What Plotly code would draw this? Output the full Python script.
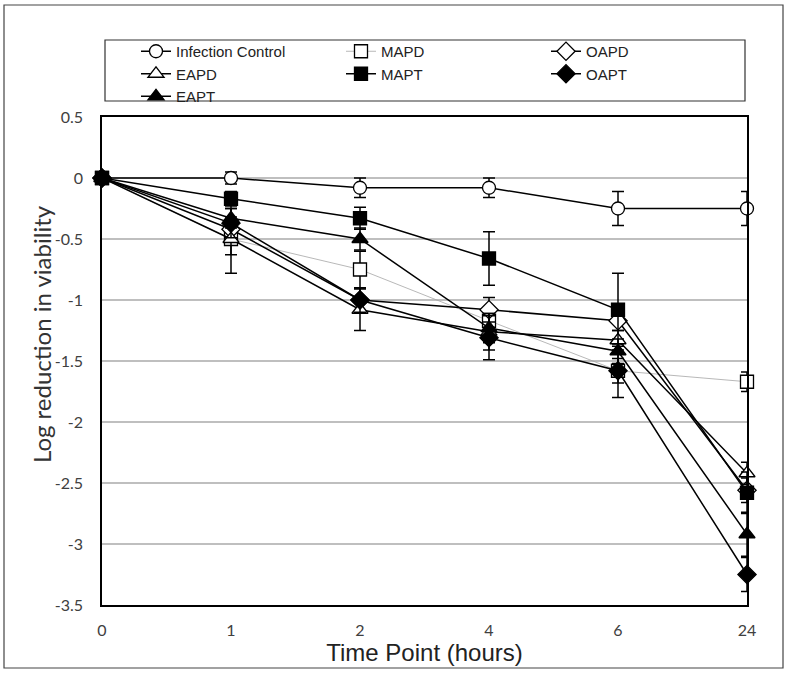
import plotly.graph_objects as go

# ---- data ----
time_labels = ["0", "1", "2", "4", "6", "24"]
y_ticks = [0.5, 0, -0.5, -1, -1.5, -2, -2.5, -3, -3.5]
y_tick_text = ["0.5", "0", "-0.5", "-1", "-1.5", "-2", "-2.5", "-3", "-3.5"]

control = [0, 0, -0.08, -0.08, -0.25, -0.25]
control_err = [0, 0.05, 0.08, 0.08, 0.14, 0.14]

mapd = [0, -0.5, -0.75, -1.17, -1.58, -1.67]
mapd_err = [0, 0.13, 0.15, 0.10, 0.10, 0.08]

oapd = [0, -0.42, -1.0, -1.08, -1.17, -2.56]
oapd_err = [0, 0.10, 0.10, 0.10, 0.08, 0.10]

eapd = [0, -0.5, -1.08, -1.26, -1.33, -2.42]
eapd_err = [0, 0.28, 0.17, 0.15, 0.08, 0.09]

mapt = [0, -0.17, -0.33, -0.66, -1.08, -2.58]
mapt_err = [0, 0.06, 0.09, 0.22, 0.30, 0.17]

oapt = [0, -0.37, -1.0, -1.31, -1.58, -3.25]
oapt_err = [0, 0.12, 0.10, 0.18, 0.22, 0.14]

eapt = [0, -0.33, -0.5, -1.23, -1.42, -2.92]
eapt_err = [0, 0.08, 0.09, 0.12, 0.10, 0.18]

series = [
    ("Infection Control", control, control_err, "circle-open", "black", 1.5, 13),
    ("MAPD", mapd, mapd_err, "square-open", "#A6A6A6", 0.8, 13),
    ("OAPD", oapd, oapd_err, "diamond-open", "black", 1.5, 14),
    ("EAPD", eapd, eapd_err, "triangle-up-open", "black", 1.5, 14),
    ("MAPT", mapt, mapt_err, "square", "black", 1.5, 13),
    ("OAPT", oapt, oapt_err, "diamond", "black", 1.5, 14),
    ("EAPT", eapt, eapt_err, "triangle-up", "black", 1.5, 14),
]

xpos = list(range(len(time_labels)))

fig = go.Figure()
for name, vals, errs, sym, lc, lw, ms in series:
    filled = not sym.endswith("-open")
    fig.add_trace(go.Scatter(
        x=xpos, y=vals, name=name, mode="lines+markers",
        line=dict(color=lc, width=lw),
        marker=dict(symbol=sym.replace("-open", ""), size=ms,
                    color="black" if filled else "white",
                    line=dict(color="black", width=1.3)),
        error_y=dict(type="data", array=errs, visible=True,
                     color="black", thickness=1.5, width=6),
        cliponaxis=False,
    ))

W, H = 789, 675
L, R, T, B = 102, 747, 117, 605


def px_x(p):
    return (p - L) / (R - L)


def px_y(p):
    return (B - p) / (B - T)


shapes = [
    # outer frame
    dict(type="rect", xref="paper", yref="paper",
         x0=px_x(4), x1=px_x(783), y0=px_y(668), y1=px_y(5),
         line=dict(color="#444444", width=1.2), layer="below"),
    # legend box
    dict(type="rect", xref="paper", yref="paper",
         x0=px_x(105), x1=px_x(745), y0=px_y(101), y1=px_y(40),
         line=dict(color="#333333", width=1.2)),
]

fig.update_layout(
    width=W, height=H,
    margin=dict(l=L, r=W - R, t=T, b=H - B),
    paper_bgcolor="white", plot_bgcolor="white",
    showlegend=True,
    legend=dict(orientation="h", x=px_x(136), y=px_y(35),
                xanchor="left", yanchor="top",
                entrywidth=160, entrywidthmode="pixels",
                font=dict(family="Liberation Sans, Arial", size=15, color="#222222"),
                bgcolor="rgba(0,0,0,0)", borderwidth=0, tracegroupgap=0),
    shapes=shapes,
    annotations=[
        dict(text="Log reduction in viability", xref="paper", yref="paper",
             x=px_x(41), y=px_y(334), xanchor="center", yanchor="middle",
             textangle=-90, showarrow=False,
             font=dict(family="Lato, Open Sans, sans-serif", size=24, color="#333333")),
    ],
    xaxis=dict(
        range=[0, 5], tickmode="array", tickvals=xpos, ticktext=time_labels,
        showgrid=False, zeroline=False, showline=True, mirror=True,
        linecolor="black", linewidth=1.5, ticks="",
        ticklabelstandoff=10,
        tickfont=dict(family="Lato, Open Sans, sans-serif", size=16, color="#404040"),
        title=dict(text="Time Point (hours)", standoff=4,
                   font=dict(family="Liberation Sans, Arial", size=24, color="#222222")),
    ),
    yaxis=dict(
        range=[-3.5, 0.5], tickmode="array", tickvals=y_ticks, ticktext=y_tick_text,
        showgrid=True, gridcolor="#BFBFBF", gridwidth=1.5,
        zeroline=False, showline=True, mirror=True,
        linecolor="black", linewidth=1.5, ticks="",
        ticklabelstandoff=14,
        tickfont=dict(family="Lato, Open Sans, sans-serif", size=16, color="#404040"),
    ),
)

fig.write_html("out.html")
